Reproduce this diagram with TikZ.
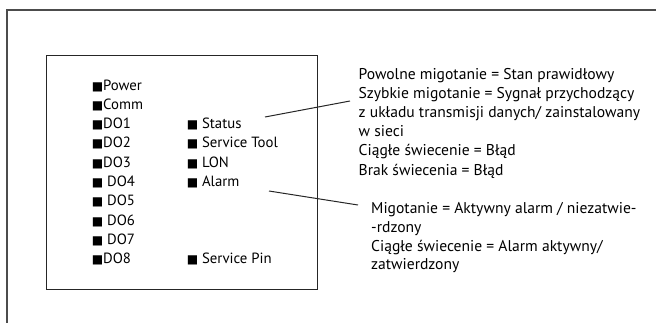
\documentclass[tikz,border=0pt]{standalone}
\usepackage{fontspec}
\setmainfont{PT Sans}
\newfontfamily\symfont{DejaVu Sans}
\newcommand\sqbox{{\symfont\fontsize{12}{12}\selectfont ■}}
\begin{document}
\begin{tikzpicture}[x=1pt,y=-1pt,
  lbl/.style={anchor=base west, inner sep=0pt, font=\fontsize{14.8}{19}\selectfont},
  desc/.style={anchor=base west, inner sep=0pt, font=\fontsize{15.6}{19}\selectfont},
  frame/.style={draw=black!70, line width=1.4pt},
  box/.style={draw=black!85, line width=1.3pt},
  lead/.style={draw=black!85, line width=1pt}]
\useasboundingbox (0,0) rectangle (656,322);
% outer frame (runs off the right and bottom edges)
\coordinate (fb) at (7,330);
\coordinate (ftl) at (7,10);
\coordinate (fr) at (665,10);
\draw[frame] (fb) -- (ftl) -- (fr);
% inner box
\node[box, anchor=north west, minimum width=271pt, minimum height=233.5pt, inner sep=0pt] (panel) at (45.5,55) {};
% left column
\node[lbl] (power) at (91.6,90) {\sqbox Power};
\node[lbl] (comm) at (91.6,109.3) {\sqbox Comm};
\node[lbl] (do1) at (91.6,128.6) {\sqbox DO1};
\node[lbl] (do2) at (91.6,147.9) {\sqbox DO2};
\node[lbl] (do3) at (91.6,167.2) {\sqbox DO3};
\node[lbl] (do4) at (91.6,186.5) {\sqbox\ DO4};
\node[lbl] (do5) at (91.6,205.8) {\sqbox\ DO5};
\node[lbl] (do6) at (91.6,225.1) {\sqbox\ DO6};
\node[lbl] (do7) at (91.6,244.4) {\sqbox\ DO7};
\node[lbl] (do8) at (91.6,263.7) {\sqbox DO8};
% second column
\node[lbl] (status) at (186.6,128.6) {\sqbox\ Status};
\node[lbl] (tool) at (186.6,147.9) {\sqbox\ Service Tool};
\node[lbl] (lon) at (186.6,167.2) {\sqbox\ LON};
\node[lbl] (alarm) at (186.6,186.5) {\sqbox\ Alarm};
\node[lbl] (pin) at (186.6,263.7) {\sqbox\ Service Pin};
% status description
\node[desc] (s1) at (358.5,79) {Powolne migotanie = Stan prawidłowy};
\node[desc] (s2) at (358.5,98.2) {Szybkie migotanie = Sygnał przychodzący};
\node[desc] (s3) at (358.5,117.4) {z układu transmisji danych/ zainstalowany};
\node[desc] (s4) at (358.5,136.6) {w sieci};
\node[desc] (s5) at (358.5,155.8) {Ciągłe świecenie = Błąd};
\node[desc] (s6) at (358.5,175) {Brak świecenia = Błąd};
% alarm description
\node[desc] (a1) at (371,213) {Migotanie = Aktywny alarm / niezatwie-};
\node[desc] (a2) at (371,232) {-rdzony};
\node[desc] (a3) at (371,251) {Ciągłe świecenie = Alarm aktywny/};
\node[desc] (a4) at (371,269.5) {zatwierdzony};
% leader lines
\coordinate (l1a) at (265,117);
\coordinate (l1b) at (350,101);
\coordinate (l2a) at (269,191);
\coordinate (l2b) at (358,205);
\draw[lead] (l1a) -- (l1b);
\draw[lead] (l2a) -- (l2b);
\end{tikzpicture}
\end{document}
